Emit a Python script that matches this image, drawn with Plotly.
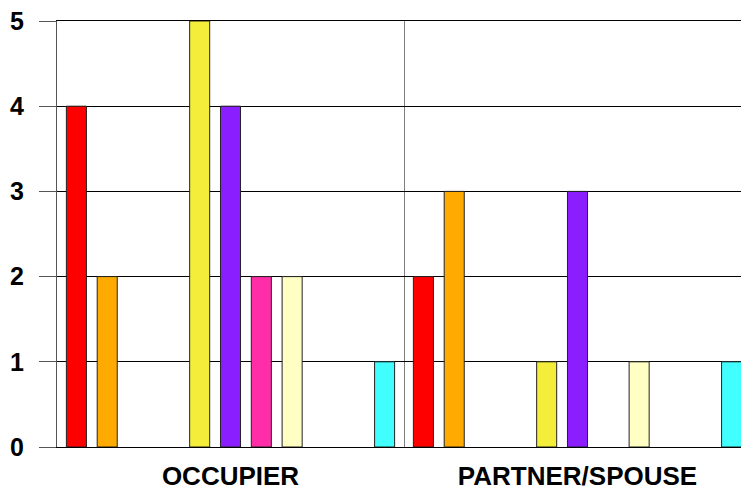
import plotly.graph_objects as go

# categories and series
categories = ["OCCUPIER", "PARTNER/SPOUSE"]
series_names = ["S1", "S2", "S3", "S4", "S5", "S6", "S7", "S8", "S9", "S10", "S11"]
series_values = [
    [4, 2],  # red
    [2, 3],  # orange
    [0, 0],
    [0, 0],
    [5, 1],  # yellow
    [4, 3],  # purple
    [2, 0],  # pink
    [2, 1],  # light yellow
    [0, 0],
    [0, 0],
    [1, 1],  # cyan
]
series_colors = ["#FF0000", "#FFAA00", "#3366FF", "#33CC33", "#F4EE3A", "#8A1EFF",
                 "#FF2EA8", "#FFFFC4", "#999999", "#CC6600", "#42FFFF"]

fig = go.Figure()
for name, vals, col in zip(series_names, series_values, series_colors):
    # no outline on empty bars, otherwise they show up as dashes on the axis
    widths = [1 if v else 0 for v in vals]
    fig.add_trace(go.Bar(
        x=categories, y=vals, name=name,
        marker=dict(color=col, line=dict(color="#222222", width=widths)),
    ))

fig.update_layout(
    width=741, height=488,
    margin=dict(l=57, r=0, t=21, b=41),
    barmode="group",
    bargap=0.023,
    bargroupgap=0.35,
    showlegend=False,
    plot_bgcolor="white",
    paper_bgcolor="white",
    font=dict(family="Liberation Sans, Arial", size=24, color="black", weight="bold"),
)
fig.update_xaxes(
    type="category",
    range=[-0.5, 1.5 - 10 / 347],
    tickson="boundaries",
    showgrid=True, gridcolor="#808080", gridwidth=1,
    ticks="", showline=True, mirror=True, linecolor="black", linewidth=1,
    tickfont=dict(size=26),
    ticklabelstandoff=6,
    automargin=False,
)
fig.update_yaxes(
    range=[0, 5], dtick=1,
    showgrid=True, gridcolor="black", gridwidth=1,
    zeroline=False,
    showline=True, linecolor="#555555", linewidth=1,
    ticks="outside", ticklen=17, tickcolor="#555555",
    tickfont=dict(size=25),
    ticklabelstandoff=10,
    automargin=False,
)

# drop the default 8px body margin so the figure sits at the window corner
fig.write_html("out.html", config={"displayModeBar": False},
               post_script="document.body.style.margin='0';")
